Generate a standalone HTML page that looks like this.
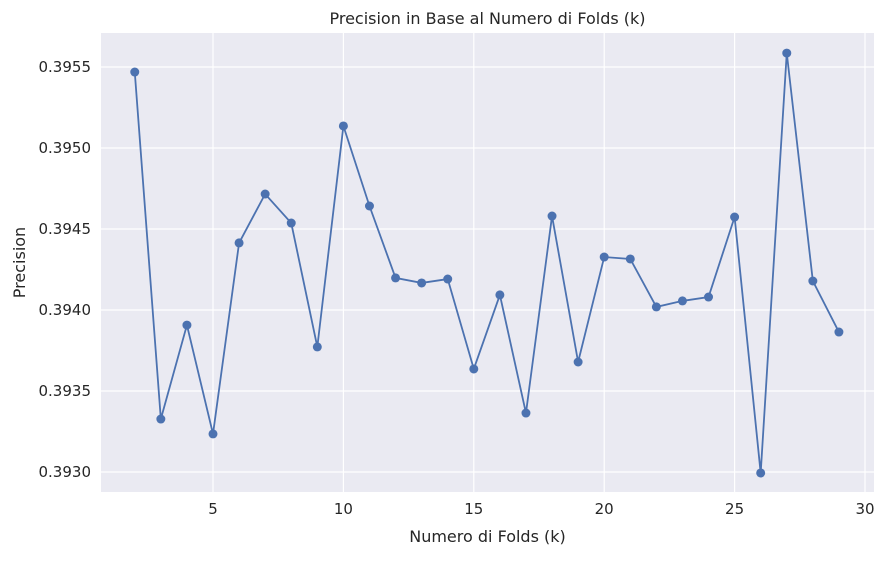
<!DOCTYPE html>
<html><head><meta charset="utf-8"><style>
body{margin:0;background:#fff;font-family:"Liberation Sans","DejaVu Sans",sans-serif}
</style></head><body>
<svg id="chart" width="885" height="556" xmlns="http://www.w3.org/2000/svg" font-family="DejaVu Sans, Liberation Sans, sans-serif"></svg>
<script>
const ks=[2,3,4,5,6,7,8,9,10,11,12,13,14,15,16,17,18,19,20,21,22,23,24,25,26,27,28,29];
const precision=[0.395469,0.393327,0.393907,0.393235,0.394414,0.394716,0.394537,0.393772,0.395136,0.394642,0.394198,0.394167,0.394191,0.393636,0.394093,0.393364,0.394580,0.393679,0.394327,0.394315,0.394019,0.394056,0.394080,0.394574,0.392994,0.395586,0.394179,0.393864];
const xTicks=[5,10,15,20,25,30];
const yTicks=[0.3930,0.3935,0.3940,0.3945,0.3950,0.3955];
const svg=document.getElementById('chart');
const NS='http://www.w3.org/2000/svg';
const L=101,R=874,T=33,B=492;
const X=v=>213+(v-5)*(865-213)/25;
const Y=v=>472-(v-0.3930)/0.0005*81;
function mk(t,a,p){const e=document.createElementNS(NS,t);for(const k in a)e.setAttribute(k,a[k]);(p||svg).appendChild(e);return e;}
const bg=mk('rect',{x:L,y:T,width:R-L,height:B-T,fill:'#eaeaf2'});


xTicks.forEach(t=>{
 const g=mk('line',{x1:X(t),x2:X(t),y1:T,y2:B,stroke:'#fff','stroke-width':1.2});
 
 
 const tx=mk('text',{x:X(t),y:B+22,'text-anchor':'middle','font-size':15,fill:'#262626'});
 tx.textContent=t;
 
 
});
yTicks.forEach(t=>{
 const g=mk('line',{x1:L,x2:R,y1:Y(t),y2:Y(t),stroke:'#fff','stroke-width':1.2});
 
 
 const tx=mk('text',{x:L-10,y:Y(t)+5,'text-anchor':'end','font-size':15,fill:'#262626'});
 tx.textContent=t.toFixed(4);
 
 
});
const pl=mk('polyline',{points:ks.map((k,i)=>X(k)+','+Y(precision[i])).join(' '),fill:'none',stroke:'#4c72b0','stroke-width':1.8});


ks.forEach((k,i)=>{
 const c=mk('circle',{cx:X(k),cy:Y(precision[i]),r:4.5,fill:'#4c72b0'});
 
 
});
const ti=mk('text',{x:(L+R)/2,y:24,'text-anchor':'middle','font-size':16,fill:'#262626'});
ti.textContent='Precision in Base al Numero di Folds (k)';


const xt=mk('text',{x:(L+R)/2,y:542,'text-anchor':'middle','font-size':16,fill:'#262626'});
xt.textContent='Numero di Folds (k)';


const yt=mk('text',{x:25,y:(T+B)/2,'text-anchor':'middle','font-size':16,fill:'#262626',transform:'rotate(-90 25 '+((T+B)/2)+')'});
yt.textContent='Precision';


</script>
</body></html>
